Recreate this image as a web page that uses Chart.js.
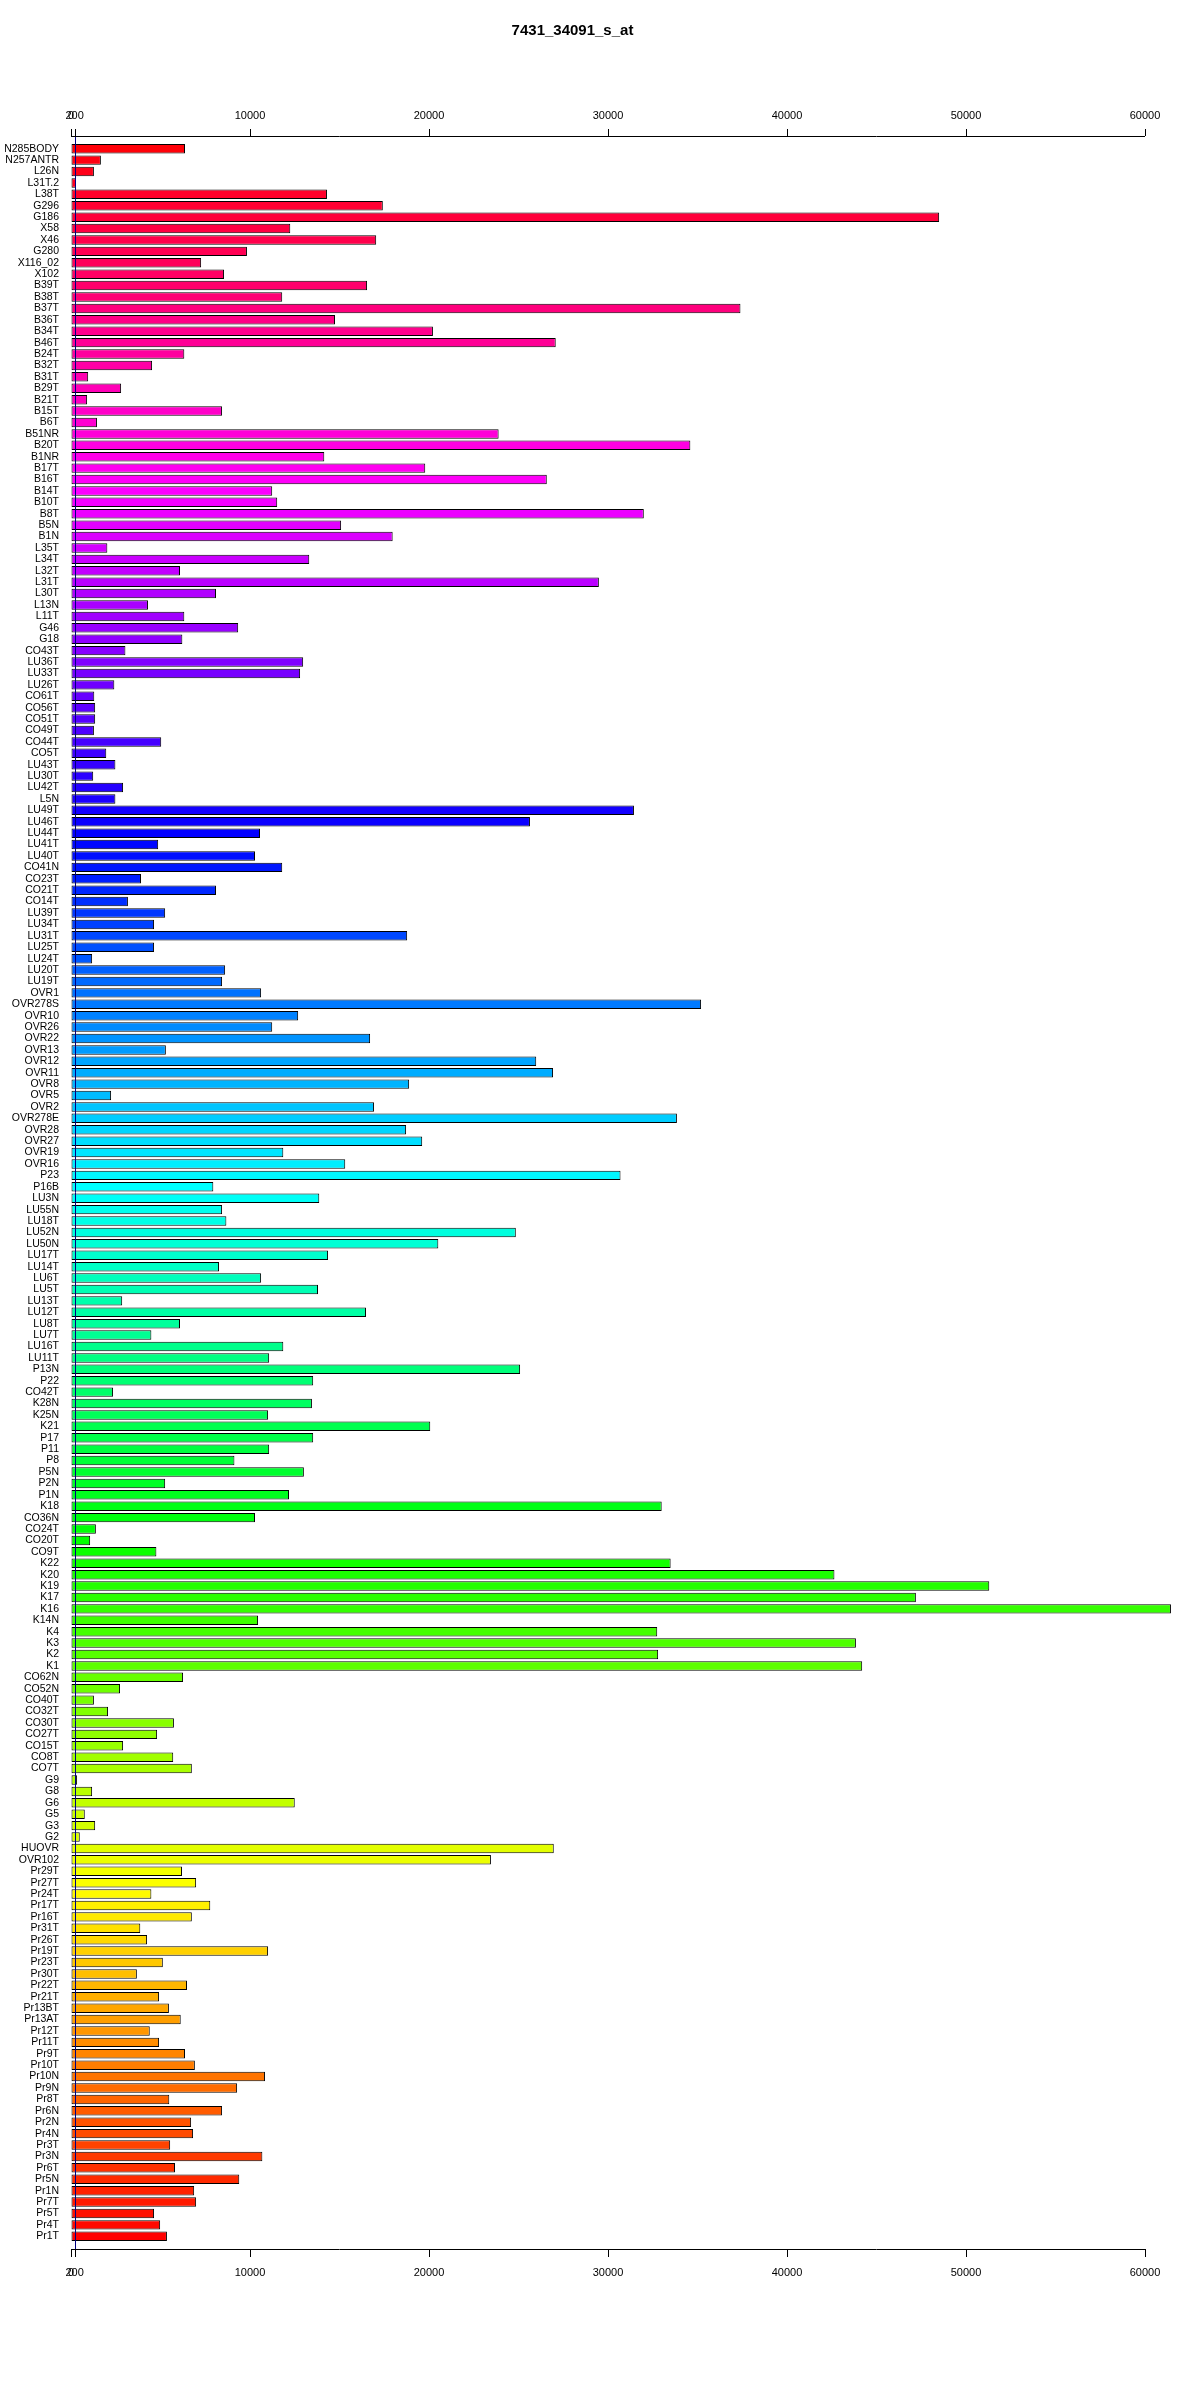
<!DOCTYPE html>
<html>
<head>
<meta charset="utf-8">
<script src="https://cdn.jsdelivr.net/npm/chart.js@4/dist/chart.umd.min.js"></script>
<style>
  body { margin: 0; background: #fff; }
  canvas { display: block; }
</style>
</head>
<body>
<canvas id="ExprChart" width="1200" height="2400"></canvas>
<script>
const chartTitle = '7431_34091_s_at';

// samples, top to bottom
const samples = [
  'N285BODY', 'N257ANTR', 'L26N', 'L31T.2', 'L38T', 'G296', 'G186', 'X58', 'X46', 'G280',
  'X116_02', 'X102', 'B39T', 'B38T', 'B37T', 'B36T', 'B34T',
  'B46T', 'B24T', 'B32T', 'B31T', 'B29T', 'B21T', 'B15T', 'B6T', 'B51NR', 'B20T',
  'B1NR', 'B17T', 'B16T', 'B14T', 'B10T', 'B8T', 'B5N',
  'B1N', 'L35T', 'L34T', 'L32T', 'L31T', 'L30T', 'L13N', 'L11T', 'G46', 'G18',
  'CO43T', 'LU36T', 'LU33T', 'LU26T', 'CO61T', 'CO56T', 'CO51T',
  'CO49T', 'CO44T', 'CO5T', 'LU43T', 'LU30T', 'LU42T', 'L5N', 'LU49T', 'LU46T', 'LU44T',
  'LU41T', 'LU40T', 'CO41N', 'CO23T', 'CO21T', 'CO14T', 'LU39T',
  'LU34T', 'LU31T', 'LU25T', 'LU24T', 'LU20T', 'LU19T', 'OVR1', 'OVR278S', 'OVR10', 'OVR26',
  'OVR22', 'OVR13', 'OVR12', 'OVR11', 'OVR8', 'OVR5', 'OVR2',
  'OVR278E', 'OVR28', 'OVR27', 'OVR19', 'OVR16', 'P23', 'P16B', 'LU3N', 'LU55N', 'LU18T',
  'LU52N', 'LU50N', 'LU17T', 'LU14T', 'LU6T', 'LU5T', 'LU13T',
  'LU12T', 'LU8T', 'LU7T', 'LU16T', 'LU11T', 'P13N', 'P22', 'CO42T', 'K28N', 'K25N',
  'K21', 'P17', 'P11', 'P8', 'P5N', 'P2N', 'P1N',
  'K18', 'CO36N', 'CO24T', 'CO20T', 'CO9T', 'K22', 'K20', 'K19', 'K17', 'K16',
  'K14N', 'K4', 'K3', 'K2', 'K1', 'CO62N', 'CO52N',
  'CO40T', 'CO32T', 'CO30T', 'CO27T', 'CO15T', 'CO8T', 'CO7T', 'G9', 'G8', 'G6',
  'G5', 'G3', 'G2', 'HUOVR', 'OVR102', 'Pr29T', 'Pr27T',
  'Pr24T', 'Pr17T', 'Pr16T', 'Pr31T', 'Pr26T', 'Pr19T', 'Pr23T', 'Pr30T', 'Pr22T', 'Pr21T',
  'Pr13BT', 'Pr13AT', 'Pr12T', 'Pr11T', 'Pr9T', 'Pr10T', 'Pr10N',
  'Pr9N', 'Pr8T', 'Pr6N', 'Pr2N', 'Pr4N', 'Pr3T', 'Pr3N', 'Pr6T', 'Pr5N', 'Pr1N',
  'Pr7T', 'Pr5T', 'Pr4T', 'Pr1T'
];

// expression values, same order
const expression = [
  6370, 1670, 1280, 280, 14300, 17420, 48500, 12250, 17050, 9830,
  7270, 8550, 16540, 11800, 37400, 14750, 20220,
  27080, 6330, 4530, 960, 2800, 900, 8440, 1450, 23890, 34600,
  14150, 19790, 26580, 11240, 11520, 32000, 15090,
  17970, 2030, 13310, 6090, 29490, 8100, 4300, 6330, 9340, 6220,
  3040, 12970, 12800, 2420, 1300, 1350, 1350,
  1280, 5040, 1970, 2480, 1240, 2910, 2480, 31450, 25640, 10560,
  4870, 10280, 11800, 3910, 8100, 3180, 5260,
  4640, 18780, 4640, 1180, 8610, 8440, 10620, 35200, 12690, 11240,
  16710, 5300, 25990, 26930, 18890, 2240, 16930,
  33850, 18720, 19620, 11860, 15320, 30700, 7950, 13870, 8440, 8680,
  24850, 20520, 14360, 8270, 10620, 13800, 2860,
  16480, 6090, 4490, 11860, 11070, 25090, 13530, 2350, 13460, 11010,
  20070, 13530, 11070, 9130, 13010, 5260, 12180,
  33000, 10280, 1390, 1070, 4770, 33500, 42650, 51300, 47200, 61450,
  10450, 32750, 43850, 32800, 44200, 6260, 2740,
  1280, 2070, 5750, 4810, 2910, 5710, 6750, 340, 1180, 12500,
  770, 1350, 490, 26970, 23460, 6200, 6990,
  4490, 7780, 6750, 3870, 4250, 11010, 5130, 3680, 6480, 4920,
  5470, 6130, 4400, 4920, 6370, 6920, 10840,
  9280, 5490, 8440, 6710, 6820, 5540, 10690, 5810, 9400, 6880,
  6990, 4640, 4980, 5360
];

const xTickValues = [0, 200, 10000, 20000, 30000, 40000, 50000, 60000];
const cutoff = 200;

const fontFamily = '"Liberation Sans", Arial, sans-serif';

// rainbow, red at the bottom going round the hue wheel upwards
const n = samples.length;
const barColors = samples.map((s, i) => `hsl(${((n - 1 - i) / n) * 360}, 100%, 50%)`);

// R style axes: line only from 0 to max, a little away from the bars
const rAxes = {
  id: 'rAxes',
  afterDatasetsDraw(chart) {
    const ctx = chart.ctx;
    const area = chart.chartArea;
    const xs = chart.scales.x;
    const x0 = xs.getPixelForValue(0);
    const x1 = xs.getPixelForValue(60000);
    const yTop = area.top - 7;
    const yBot = area.bottom + 7;

    ctx.save();
    // cutoff line
    const xc = Math.round(xs.getPixelForValue(cutoff)) + 0.5;
    ctx.strokeStyle = '#000080';
    ctx.lineWidth = 1;
    ctx.beginPath();
    ctx.moveTo(xc, yTop);
    ctx.lineTo(xc, yBot);
    ctx.stroke();

    ctx.strokeStyle = '#000';
    ctx.beginPath();
    ctx.moveTo(x0, yTop + 0.5);
    ctx.lineTo(x1, yTop + 0.5);
    ctx.moveTo(x0, yBot + 0.5);
    ctx.lineTo(x1, yBot + 0.5);
    xTickValues.forEach(v => {
      const px = Math.round(xs.getPixelForValue(v)) + 0.5;
      ctx.moveTo(px, yTop);
      ctx.lineTo(px, yTop - 7);
      ctx.moveTo(px, yBot);
      ctx.lineTo(px, yBot + 8);
    });
    ctx.stroke();
    ctx.restore();
  }
};

function xAxis(pos, height, pad) {
  return {
    type: 'linear',
    position: pos,
    min: 0,
    max: 60000,
    afterBuildTicks: s => { s.ticks = xTickValues.map(v => ({ value: v })); },
    afterFit: s => { s.height = height; },
    grid: { display: true, drawOnChartArea: false, color: 'rgba(0,0,0,0)', tickLength: 14 },
    border: { display: false },
    ticks: {
      autoSkip: false,
      maxRotation: 0,
      padding: pad,
      color: '#000',
      font: { size: 11, family: fontFamily },
      callback: v => String(v)
    }
  };
}

const ctx = document.getElementById('ExprChart').getContext('2d');
new Chart(ctx, {
  type: 'bar',
  data: {
    labels: samples,
    datasets: [{
      data: expression,
      backgroundColor: barColors,
      borderColor: '#000',
      borderWidth: 1,
      borderSkipped: false,
      barPercentage: 0.83,
      categoryPercentage: 1.0,
      clip: false
    }]
  },
  options: {
    indexAxis: 'y',
    responsive: false,
    animation: false,
    devicePixelRatio: 1,
    layout: { padding: { left: 0, right: 55, top: 0, bottom: 0 } },
    plugins: {
      legend: { display: false },
      tooltip: { enabled: false },
      title: {
        display: true,
        text: chartTitle,
        color: '#000',
        font: { size: 15, weight: 'bold', family: fontFamily },
        padding: { top: 22, bottom: 0 }
      }
    },
    scales: {
      x: xAxis('top', 103, 6),
      x2: xAxis('bottom', 158, 10),
      y: {
        type: 'category',
        offset: true,
        afterFit: s => { s.width = 71; },
        grid: { display: false, drawTicks: false },
        border: { display: false },
        ticks: {
          autoSkip: false,
          padding: 12,
          color: '#000',
          font: { size: 10.5, family: fontFamily }
        }
      }
    }
  },
  plugins: [rAxes]
});
</script>
</body>
</html>
